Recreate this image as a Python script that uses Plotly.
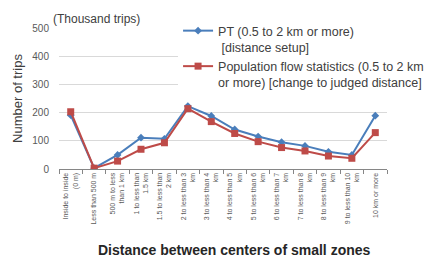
import plotly.graph_objects as go

categories = [
    "Inside to inside<br>(0 m)",
    "Less than 500 m",
    "500 m to less<br>than 1 km",
    "1 to less than<br>1.5 km",
    "1.5 to less than<br>2 km",
    "2 to less than 3<br>km",
    "3 to less than 4<br>km",
    "4 to less than 5<br>km",
    "5 to less than 6<br>km",
    "6 to less than 7<br>km",
    "7 to less than 8<br>km",
    "8 to less than 9<br>km",
    "9 to less than 10<br>km",
    "10 km or more",
]
pt_values = [191, 3, 50, 111, 107, 223, 188, 140, 115, 95, 82, 61, 50, 189]
flow_values = [203, 3, 28, 70, 93, 214, 168, 126, 97, 76, 64, 46, 38, 129]
y_ticks = [0, 100, 200, 300, 400, 500]

FONT = "Arial, Liberation Sans, sans-serif"
BLUE = "#4a7ebb"
RED = "#be4b48"

fig = go.Figure()
fig.add_trace(go.Scatter(
    x=categories, y=pt_values, mode="lines+markers",
    name="PT (0.5 to 2 km or more)<br> [distance setup]",
    line=dict(color=BLUE, width=2),
    marker=dict(symbol="diamond", size=6, color=BLUE),
))
fig.add_trace(go.Scatter(
    x=categories, y=flow_values, mode="lines+markers",
    name="Population flow statistics (0.5 to 2 km<br>or more) [change to judged distance]",
    line=dict(color=RED, width=2),
    marker=dict(symbol="square", size=7, color=RED),
))

fig.update_layout(
    width=445, height=259,
    margin=dict(l=59, r=58, t=28, b=90, autoexpand=False),
    paper_bgcolor="white", plot_bgcolor="white",
    font=dict(family=FONT, color="#404040"),
    legend=dict(
        x=0.363, y=1.085, xanchor="left", yanchor="top",
        bgcolor="white", font=dict(size=12.5, color="#404040", family=FONT),
        valign="top", tracegroupgap=0, borderwidth=0,
    ),
    showlegend=True,
)
fig.update_xaxes(
    type="category", range=[-0.5, len(categories) - 0.5],
    tickangle=-90, tickfont=dict(size=7, color="#595959"),
    showline=True, linecolor="#868686", linewidth=1,
    ticks="outside", tickson="boundaries", ticklen=4, tickcolor="#868686",
    showgrid=False, automargin=False,
)
fig.update_yaxes(
    range=[0, 500], tickvals=y_ticks, tickfont=dict(size=10, color="#595959"),
    ticklabelstandoff=9,
    showgrid=True, gridcolor="#d9d9d9", gridwidth=1,
    showline=False, zeroline=False, automargin=False,
    title=dict(text="Number of trips", font=dict(size=13, color="#404040"), standoff=6),
)
fig.add_annotation(
    text="(Thousand trips)", xref="paper", yref="paper",
    x=-0.025, y=1.0, xanchor="left", yanchor="bottom", showarrow=False,
    font=dict(size=12, color="#404040", family=FONT),
)
fig.add_annotation(
    text="<b>Distance between centers of small zones</b>",
    xref="paper", yref="paper", x=0.535, y=-0.575,
    xanchor="center", yanchor="middle", showarrow=False,
    font=dict(size=14, color="#262626", family=FONT),
)

fig.write_html("out.html", config={"displayModeBar": False},
               post_script="document.body.style.margin='0';")
